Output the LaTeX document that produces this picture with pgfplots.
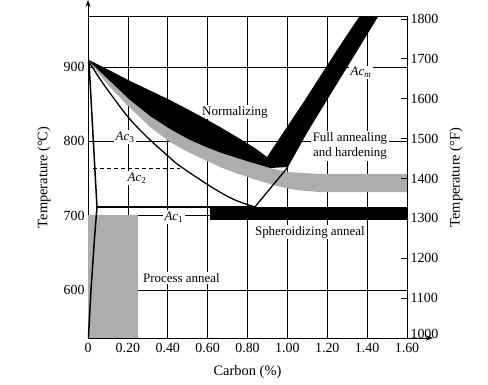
\documentclass[border=0pt]{standalone}
\usepackage{pgfplots}
\pgfplotsset{compat=1.18}
\usepackage{fontspec}
\setmainfont{Liberation Serif}
\usetikzlibrary{arrows.meta}
\definecolor{bandgray}{gray}{0.68}
\begin{document}
\begin{tikzpicture}
\useasboundingbox (-88bp,-47bp) rectangle (400bp,338bp);
\begin{axis}[
  at={(0,0)}, anchor=south west,
  scale only axis, width=319bp, height=321bp,
  xmin=0, xmax=1.6, ymin=535.4, ymax=967.3,
  xtick={0,0.2,0.4,0.6,0.8,1.0,1.2,1.4,1.6},
  xticklabels={0,0.20,0.40,0.60,0.80,1.00,1.20,1.40,1.60},
  ytick={600,700,800,900},
  grid=major,
  grid style={black, line width=0.55pt},
  major tick length=0pt,
  axis line style={line width=1pt},
  tick label style={font=\fontsize{14}{16}\selectfont, /pgf/number format/assume math mode=true},
  xticklabel style={yshift=-2bp},
  label style={font=\fontsize{14.5}{17}\selectfont},
  xlabel={Carbon (\%)},
  ylabel={Temperature (\textdegree C)},
  xlabel style={at={(axis description cs:0.5,-0.106)}, anchor=center},
  ylabel style={at={(axis description cs:-0.138,0.5)}, anchor=center},
]
% label under the bands
\node[fill=white, inner sep=1.5bp, font=\fontsize{13}{15}\selectfont] at (axis cs:0.737,839.5) {Normalizing};
% process anneal
\addplot[fill=bandgray, draw=none] coordinates {(0,535.4) (0.251,535.4) (0.251,700.9) (0,700.9)} -- cycle;
% full annealing and hardening (gray band)
\addplot[fill=bandgray, draw=none] coordinates {
(0.005,908.1) (0.110,881.2) (0.211,855.6) (0.311,834.1) (0.411,816.6) (0.502,803.1) (0.587,793.0) (0.662,785.0) (0.747,777.6) (0.837,770.2) (0.913,764.1)
(1.003,758.7) (1.163,756.1) (1.600,756.1)
(1.600,731.8) (1.163,731.8) (1.063,733.9) (0.988,737.2) (0.913,742.6) (0.837,748.7) (0.747,756.7) (0.662,765.5) (0.587,774.9) (0.502,785.6) (0.411,799.1) (0.311,819.3) (0.211,844.8) (0.110,873.1) (0.005,906.7)} -- cycle;
% normalizing (black band)
\addplot[fill=black, draw=none] coordinates {
(0.005,909.4) (0.110,895.3) (0.211,881.2) (0.311,868.4) (0.411,855.6) (0.502,842.8) (0.587,830.7) (0.662,819.3) (0.747,805.8) (0.837,791.0) (0.898,779.0)
(1.088,855.6) (1.249,922.9) (1.359,967.3) (1.454,967.3) (1.199,855.6) (1.098,811.2) (1.003,765.5)
(0.913,764.1) (0.837,770.2) (0.747,777.6) (0.662,785.0) (0.587,793.0) (0.502,803.1) (0.411,816.6) (0.311,834.1) (0.211,855.6) (0.110,881.2) (0.005,908.1)} -- cycle;
% spheroidizing anneal (black band)
\addplot[fill=black, draw=none] coordinates {(0.612,694.2) (1.600,694.2) (1.600,711.0) (0.612,711.0)} -- cycle;
% Ac3
\addplot[black, line width=1.3pt, smooth] coordinates {
(0.005,906.7) (0.060,883.9) (0.110,865.0) (0.201,832.7) (0.296,805.8) (0.401,780.3) (0.461,766.8) (0.627,737.2) (0.737,721.1) (0.837,711.7)};
% Acm lower part
\addplot[black, line width=1.3pt] coordinates {(0.837,711.7) (1.003,765.5)};
% Ac1
\addplot[black, line width=1.3pt] coordinates {(0.045,711.7) (0.837,711.7)};
% ferrite boundary
\addplot[black, line width=1.5pt] coordinates {(0.005,906.7) (0.045,711.7) (0.032,667.3) (0.015,600.0) (0.002,535.4)};
% Ac2
\addplot[black, line width=0.8pt, dash pattern=on 4bp off 3bp] coordinates {(0.025,764.1) (0.461,764.1)};
% labels
\begin{scope}[every node/.style={fill=white, inner sep=1.5bp, font=\fontsize{13}{15}\selectfont}]
\node at (axis cs:0.186,806) {\textit{Ac}\textsubscript{3}};
\node at (axis cs:0.246,750.7) {\textit{Ac}\textsubscript{2}};
\node at (axis cs:0.431,698) {\textit{Ac}\textsubscript{1}};
\node at (axis cs:1.369,893) {\textit{Ac}\textsubscript{\textit{m}}};
\node[align=center] at (axis cs:1.314,793.7) {Full annealing\\and hardening};
\node at (axis cs:1.113,678) {Spheroidizing anneal};
\node at (axis cs:0.469,616.1) {Process anneal};
\end{scope}
\end{axis}
\begin{axis}[
  at={(0,0)}, anchor=south west,
  scale only axis, width=319bp, height=321bp,
  xmin=0, xmax=1.6, ymin=1000, ymax=1805,
  axis y line*=right, axis x line=none,
  ytick={1000,1100,1200,1300,1400,1500,1600,1700,1800},
  yticklabels={\raisebox{8bp}{1000},1100,1200,1300,1400,1500,1600,1700,1800},
  tick align=inside, major tick length=6bp,
  y tick style={line width=0.8pt, black},
  axis line style={line width=1pt},
  tick label style={font=\fontsize{14}{16}\selectfont, /pgf/number format/assume math mode=true},
  label style={font=\fontsize{14.5}{17}\selectfont},
  ylabel={Temperature (\textdegree F)},
  ylabel style={at={(axis description cs:1.154,0.5)}, anchor=center},
]
\end{axis}
\draw[line width=1pt, -{Stealth[length=7bp,width=5bp]}] (0,320bp) -- (0,338bp);
\draw[line width=1pt, -{Stealth[length=7bp,width=5bp]}] (318bp,0) -- (345bp,0);
\end{tikzpicture}
\end{document}
